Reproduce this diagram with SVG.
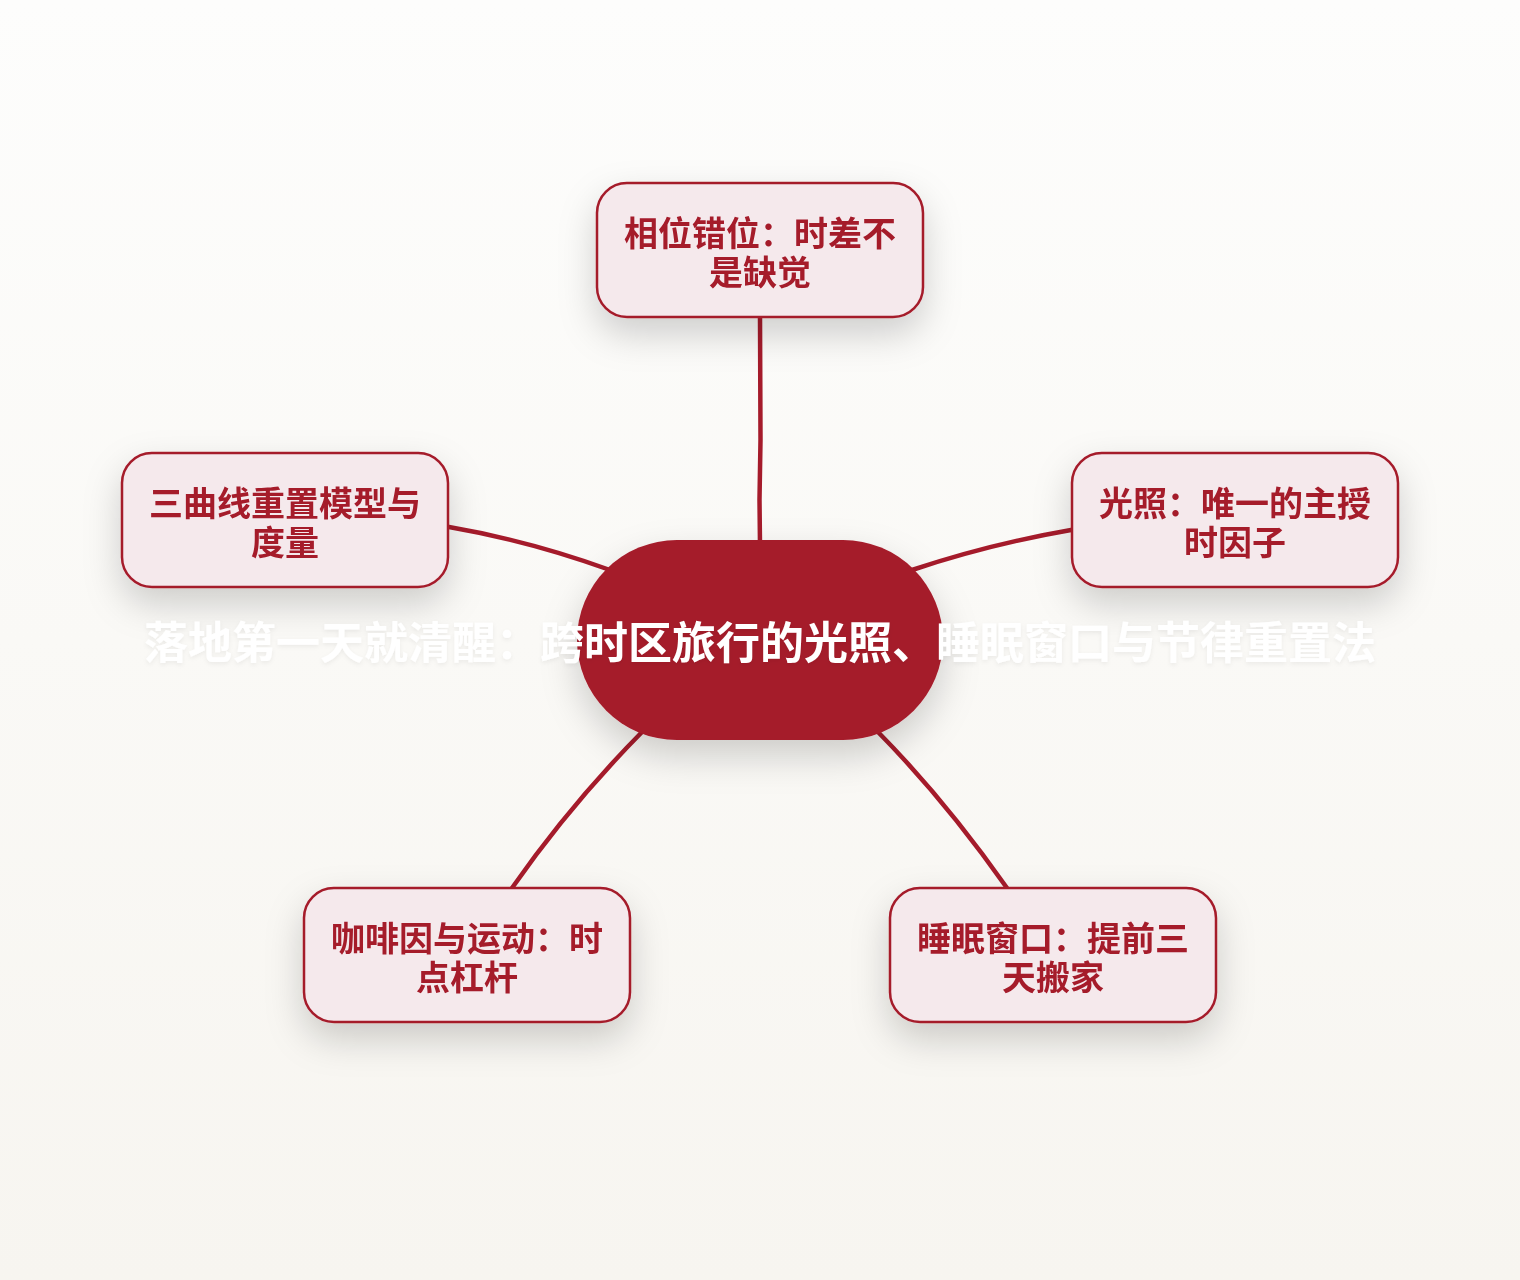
<svg xmlns="http://www.w3.org/2000/svg" width="1520" height="1280" viewBox="0 0 1520 1280">
<defs>
<linearGradient id="bg" x1="0" y1="0" x2="0" y2="1">
<stop offset="0" stop-color="#fdfdfc"/>
<stop offset="1" stop-color="#f7f5f0"/>
</linearGradient>
<filter id="sh" x="-40%" y="-40%" width="180%" height="200%">
<feDropShadow dx="0" dy="16" stdDeviation="18" flood-color="#000" flood-opacity="0.18"/>
</filter>
<filter id="tsh" x="-5%" y="-30%" width="110%" height="170%">
<feDropShadow dx="0" dy="2" stdDeviation="2" flood-color="#000" flood-opacity="0.06"/>
</filter>
</defs>
<style>
.box{fill:#f5e9ec;stroke:#a51b2b;stroke-width:2.5}
.lbl{font-family:"Noto Sans CJK SC","Noto Sans",sans-serif;font-weight:700;font-size:34px;fill:#a51b2b;text-anchor:middle}
.edge{fill:none;stroke:#a51b2b;stroke-width:4.5;stroke-linecap:round}
.title{font-family:"Noto Sans CJK SC","Noto Sans",sans-serif;font-weight:700;font-size:44px;fill:#ffffff;text-anchor:middle}
</style>
<rect x="0" y="0" width="1520" height="1280" fill="url(#bg)"/>
<g id="connectors">
<path class="edge" d="M760,317 L760.5,440 L759.5,500 L760,545"/>
<path class="edge" d="M449,527 Q530,541 610,570"/>
<path class="edge" d="M1071,530 Q990,544 912,570"/>
<path class="edge" d="M512,888 Q570,805 642,732"/>
<path class="edge" d="M1007,888 Q945,800 878,732"/>
</g>
<g id="n1" filter="url(#sh)">
<rect class="box" x="597" y="183" width="326" height="134" rx="30"/>
<text class="lbl"><tspan x="760" y="246">相位错位：时差不</tspan><tspan x="760" y="285">是缺觉</tspan></text>
</g>
<g id="n2" filter="url(#sh)">
<rect class="box" x="122" y="453" width="326" height="134" rx="30"/>
<text class="lbl"><tspan x="285" y="516">三曲线重置模型与</tspan><tspan x="285" y="555">度量</tspan></text>
</g>
<g id="n3" filter="url(#sh)">
<rect class="box" x="1072" y="453" width="326" height="134" rx="30"/>
<text class="lbl"><tspan x="1235" y="516">光照：唯一的主授</tspan><tspan x="1235" y="555">时因子</tspan></text>
</g>
<g id="n4" filter="url(#sh)">
<rect class="box" x="304" y="888" width="326" height="134" rx="30"/>
<text class="lbl"><tspan x="467" y="951">咖啡因与运动：时</tspan><tspan x="467" y="990">点杠杆</tspan></text>
</g>
<g id="n5" filter="url(#sh)">
<rect class="box" x="890" y="888" width="326" height="134" rx="30"/>
<text class="lbl"><tspan x="1053" y="951">睡眠窗口：提前三</tspan><tspan x="1053" y="990">天搬家</tspan></text>
</g>
<g id="center">
<rect x="577" y="540" width="366" height="200" rx="100" fill="#a51b2b" filter="url(#sh)"/>
<text class="title" x="760" y="659" filter="url(#tsh)">落地第一天就清醒：跨时区旅行的光照、睡眠窗口与节律重置法</text>
</g>
</svg>
